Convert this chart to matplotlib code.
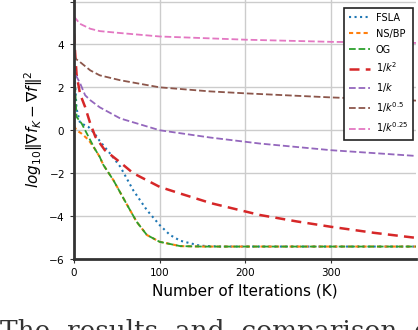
import numpy as np
import matplotlib.pyplot as plt

# values
fsla_x = [0, 3, 7, 12, 17, 24, 30, 42, 54, 69, 85, 100, 112, 124, 147, 170, 400]
fsla_y = [3.0, 1.0, 0.35, 0.25, 0.15, -0.15, -0.5, -1.08, -1.7, -2.79, -3.72,
          -4.42, -4.88, -5.15, -5.38, -5.42, -5.42]

nsbp_x = [0, 3, 9, 17, 24, 30, 34, 46, 61, 73, 85, 100, 124, 150, 400]
nsbp_y = [0.2, 0.0, -0.16, -0.45, -0.85, -1.24, -1.6, -2.33, -3.41, -4.26,
          -4.88, -5.2, -5.4, -5.42, -5.42]

og_x = [0, 3, 9, 17, 24, 30, 34, 46, 61, 73, 85, 100, 124, 150, 400]
og_y = [3.0, 0.62, 0.31, -0.31, -0.85, -1.24, -1.6, -2.33, -3.41, -4.26,
        -4.88, -5.2, -5.4, -5.42, -5.42]

k2_x = [0, 1, 3, 7, 13, 19, 25, 36, 54, 69, 100, 124, 160, 217, 260, 300, 350, 400]
k2_y = [4.5, 3.8, 2.6, 1.7, 1.08, 0.31, -0.31, -0.93, -1.5, -2.0, -2.64, -2.95,
        -3.4, -3.95, -4.25, -4.5, -4.78, -5.02]

k1_x = [0, 1, 3, 7, 13, 19, 30, 54, 100, 159, 217, 300, 400]
k1_y = [3.0, 2.8, 2.5, 2.2, 1.63, 1.4, 1.07, 0.55, 0.0, -0.34, -0.62, -0.93, -1.2]

k05_x = [0, 2, 7, 19, 30, 54, 100, 159, 200, 300, 400]
k05_y = [3.5, 3.33, 3.18, 2.79, 2.56, 2.33, 2.0, 1.81, 1.72, 1.53, 1.38]

k025_x = [0, 2, 7, 19, 30, 54, 100, 200, 300, 400]
k025_y = [5.3, 5.2, 4.96, 4.73, 4.62, 4.53, 4.37, 4.22, 4.12, 4.07]

yticks = [-6, -4, -2, 0, 2, 4, 6]
ytick_labels = ['$-6$', '$-4$', '$-2$', '$0$', '$2$', '$4$', '']

fig = plt.figure(figsize=(4.18, 3.30), dpi=100)
ax = fig.add_axes([74 / 418, 1 - 259 / 330, (416 - 74) / 418, 259 / 330])

ax.plot(fsla_x, fsla_y, color='C0', ls=':', lw=1.5, label='FSLA')
ax.plot(nsbp_x, nsbp_y, color='C1', ls=(0, (2, 1.5)), lw=1.5, label='NS/BP')
ax.plot(og_x, og_y, color='C2', ls='--', lw=1.3, label='OG')
ax.plot(k2_x, k2_y, color='C3', ls=(0, (4, 2.5)), lw=1.8, label='$1/k^2$')
ax.plot(k1_x, k1_y, color='C4', ls='--', lw=1.3, label='$1/k$')
ax.plot(k05_x, k05_y, color='C5', ls='--', lw=1.3, label='$1/k^{0.5}$')
ax.plot(k025_x, k025_y, color='C6', ls='--', lw=1.3, label='$1/k^{0.25}$')

ax.set_xlim(0, 399)
ax.set_ylim(-6, 6.07)
ax.set_xticks([0, 100, 200, 300])
ax.set_yticks(yticks, ytick_labels)
ax.grid(True, color='#cccccc', lw=1)
ax.tick_params(labelsize=7.5, length=3, color='#333333')

for s in ['top', 'right']:
    ax.spines[s].set_visible(False)
for s in ['left', 'bottom']:
    ax.spines[s].set_color('#333333')
    ax.spines[s].set_linewidth(2)

ax.set_xlabel('Number of Iterations (K)', fontsize=11)
ax.set_ylabel(r'$log_{10}\|\nabla f_K - \nabla f\|^2$', fontsize=11, labelpad=2)

leg = ax.legend(loc='upper right', fontsize=7, fancybox=False, framealpha=1,
                edgecolor='#222222', handlelength=2.2, handletextpad=0.6,
                borderpad=0.5, labelspacing=0.6, borderaxespad=0,
                bbox_to_anchor=(0.991, 0.969))
leg.get_frame().set_linewidth(1.2)

# caption of the page below, cut off by the crop
fig.text(0.0, 1 - 319 / 330, 'The  results  and  comparison  of  the  algorithms',
         fontsize=19, family='DejaVu Serif', va='top', color='#333333')

fig.savefig('out.png', dpi=100)
